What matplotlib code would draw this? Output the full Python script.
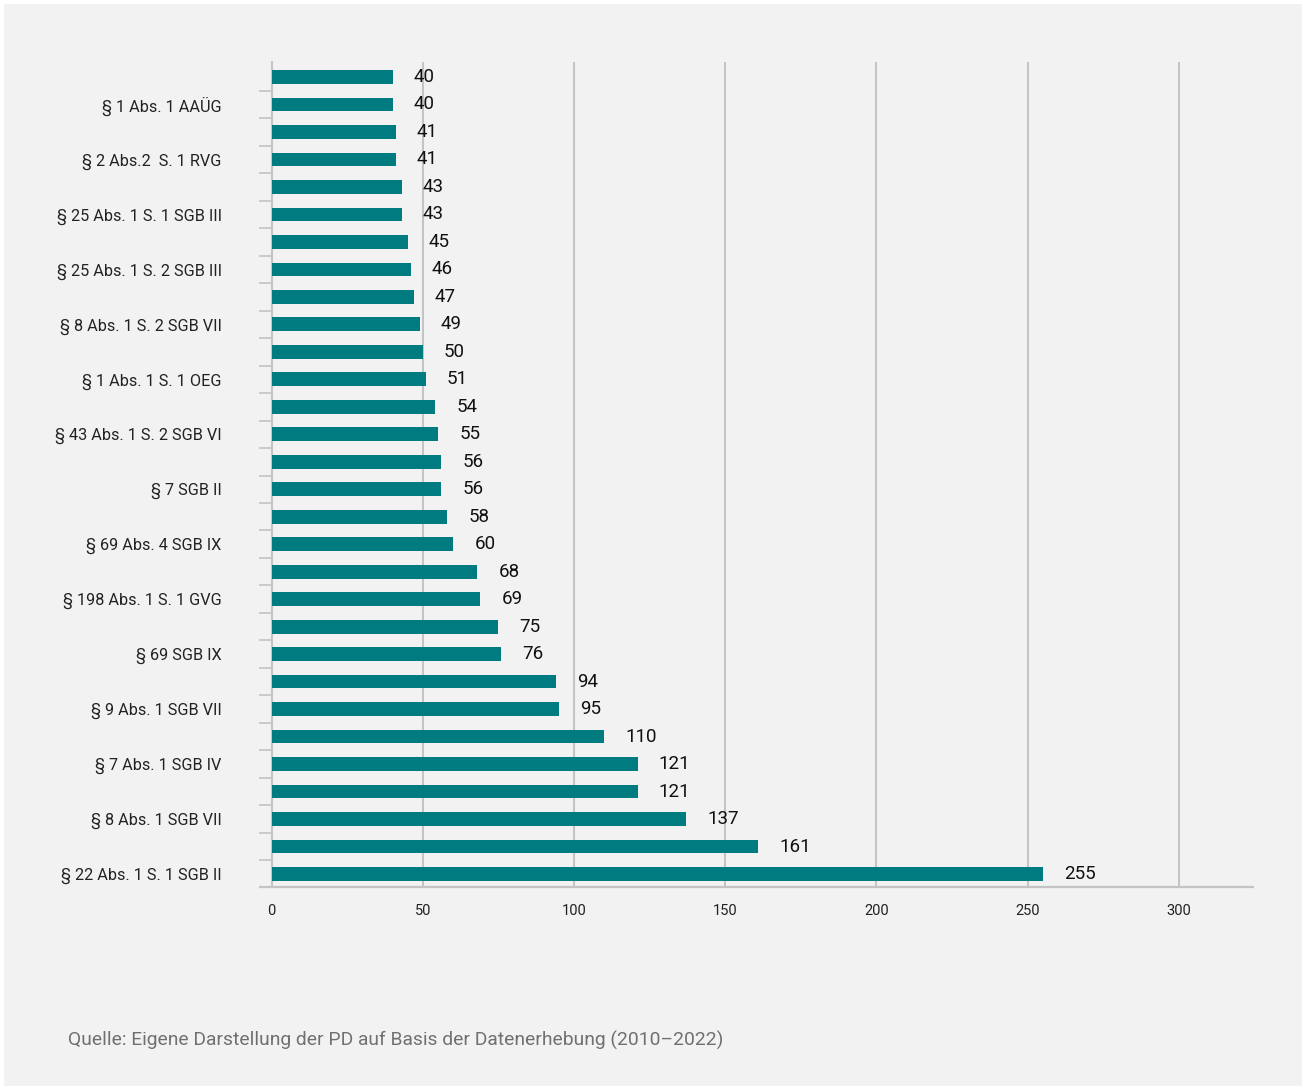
import matplotlib
matplotlib.use("Agg")
import matplotlib.pyplot as plt
from matplotlib.patches import Rectangle

# Data (top to bottom as shown in the chart)
categories = [
    "", "§ 1 Abs. 1 AAÜG",
    "", "§ 2 Abs.2  S. 1 RVG",
    "", "§ 25 Abs. 1 S. 1 SGB III",
    "", "§ 25 Abs. 1 S. 2 SGB III",
    "", "§ 8 Abs. 1 S. 2 SGB VII",
    "", "§ 1 Abs. 1 S. 1 OEG",
    "", "§ 43 Abs. 1 S. 2 SGB VI",
    "", "§ 7 SGB II",
    "", "§ 69 Abs. 4 SGB IX",
    "", "§ 198 Abs. 1 S. 1 GVG",
    "", "§ 69 SGB IX",
    "", "§ 9 Abs. 1 SGB VII",
    "", "§ 7 Abs. 1 SGB IV",
    "", "§ 8 Abs. 1 SGB VII",
    "", "§ 22 Abs. 1 S. 1 SGB II",
]
values = [40, 40, 41, 41, 43, 43, 45, 46, 47, 49, 50, 51, 54, 55, 56, 56,
          58, 60, 68, 69, 75, 76, 94, 95, 110, 121, 121, 137, 161, 255]
x_ticks = [0, 50, 100, 150, 200, 250, 300]
source = "Quelle: Eigene Darstellung der PD auf Basis der Datenerhebung (2010–2022)"

BAR = "#007b80"
GRID = "#c4c4c4"
BG = "#f2f2f2"

plt.rcParams['font.family'] = ['Roboto', 'DejaVu Sans']

W, H = 1306, 1090
fig = plt.figure(figsize=(W / 100, H / 100), dpi=100, facecolor="white")
fig.patches.append(Rectangle((4 / W, 4 / H), (W - 8) / W, (H - 8) / H,
                             transform=fig.transFigure, facecolor=BG,
                             edgecolor="none", zorder=-10))

left_px, right_px, top_px, bottom_px = 271.7, 1254.3, 62, 887
ax = fig.add_axes([left_px / W, (H - bottom_px) / H,
                   (right_px - left_px) / W, (bottom_px - top_px) / H])
ax.set_facecolor("none")

n = len(values)
ypos = [n - 1 - i for i in range(n)]
ax.barh(ypos, values, height=0.5, color=BAR, zorder=3)

for y, v in zip(ypos, values):
    ax.text(v + 7, y, str(v), va="center", ha="left", fontsize=13.5,
            color="#111111", zorder=4)

ax.set_xlim(0, 325)
ax.set_ylim(-0.473, n - 1 + 0.546)

# x axis
ax.set_xticks(x_ticks)
ax.set_xticklabels([str(t) for t in x_ticks], fontsize=10.5, color="#222222")
ax.tick_params(axis="x", length=0, pad=12)
for t in x_ticks[1:]:
    ax.axvline(t, color=GRID, lw=1.5, zorder=1)

# y axis: labels on every other bar, tick marks between bars
label_pos = [y for y, c in zip(ypos, categories) if c]
label_txt = [c for c in categories if c]
ax.set_yticks(label_pos)
ax.set_yticklabels(label_txt, fontsize=11.7, color="#222222")
ax.tick_params(axis="y", which="major", length=0, pad=36)
ax.set_yticks([k + 0.5 for k in range(n - 1)], minor=True)
ax.tick_params(axis="y", which="minor", length=9.4, width=1.2, color=GRID)

for s in ["top", "right", "bottom"]:
    ax.spines[s].set_visible(False)
ax.spines["left"].set_color(GRID)
ax.spines["left"].set_linewidth(1.5)

# bottom axis line extending slightly left of the y axis
ax.plot([-13 / 3.023, 325], [-0.473, -0.473], color=GRID, lw=1.6,
        clip_on=False, zorder=2, solid_capstyle="butt")

fig.text(68 / W, (H - 1040) / H, source, fontsize=13.9, color="#707070",
         va="center", ha="left")

fig.savefig("out.png", dpi=100, facecolor=fig.get_facecolor())
